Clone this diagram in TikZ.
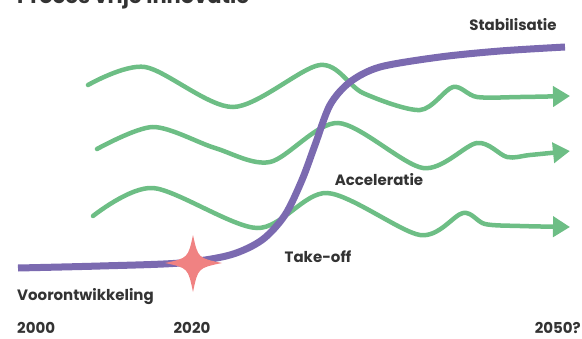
\documentclass[tikz,border=0pt]{standalone}
\usepackage{fontspec}
\setmainfont{Poppins}
\usetikzlibrary{arrows.meta}
\definecolor{curvepurple}{HTML}{7B6AB0}
\definecolor{wavegreen}{HTML}{6DBE85}
\definecolor{starred}{HTML}{F08282}
\definecolor{labelgray}{HTML}{333333}

\begin{document}
\begin{tikzpicture}[x=1pt,y=-1pt,
  wave/.style={wavegreen, line width=4.5pt, line cap=round, -{Triangle[length=17pt,width=20pt]}},
  phase/.style={font=\bfseries\fontsize{15}{17}\selectfont, text=labelgray, inner sep=0pt}]
\clip (0,0) rectangle (582,338); % page frame, also the bounding box
\pgfmathsetmacro{\starX}{193}
\pgfmathsetmacro{\starY}{263}

% title, cut by the top edge
\node[phase, font=\bfseries\fontsize{21}{23}\selectfont, anchor=base west] (title) at (17,3) {Proces vrije innovatie};

% three green waves
\draw[wave] plot[smooth] coordinates {(88,85) (145,67) (233,107) (320,65) (363,93) (420,110) (453,87) (477,97) (520,97) (570,96)};
\draw[wave] plot[smooth] coordinates {(97,149) (153,127) (215,148) (270,162) (338,123) (423,168) (477,143) (507,157) (530,155) (570,151)};
\draw[wave] plot[smooth] coordinates {(93,216) (153,188) (257,228) (327,193) (420,235) (463,213) (485,224) (520,226) (570,227)};

% purple S-curve
\draw[curvepurple, line width=7pt] plot[smooth] coordinates {(18,268) (100,266) (180,263) (230,255) (262,240) (285,215) (302,180) (315,145) (330,105) (350,82) (380,67) (440,57) (500,51) (565,47)};

% four pointed star
\fill[starred] (\starX,\starY-28) .. controls (\starX+5,\starY-5) .. (\starX+29,\starY)
  .. controls (\starX+5,\starY+5) .. (\starX,\starY+29)
  .. controls (\starX-5,\starY+5) .. (\starX-28,\starY)
  .. controls (\starX-5,\starY-5) .. cycle;

% labels
\node[phase] (stab) at (513,25) {Stabilisatie};
\node[phase] (accel) at (379,180) {Acceleratie};
\node[phase] (takeoff) at (318,257) {Take-off};
\node[phase, anchor=west] (voor) at (17,297) {Voorontwikkeling};
\node[phase, anchor=base west] (y2000) at (17,333) {2000};
\node[phase, anchor=base] (y2020) at (192,333) {2020};
\node[phase, anchor=base east] (y2050) at (581,333) {2050?};
\end{tikzpicture}
\end{document}
